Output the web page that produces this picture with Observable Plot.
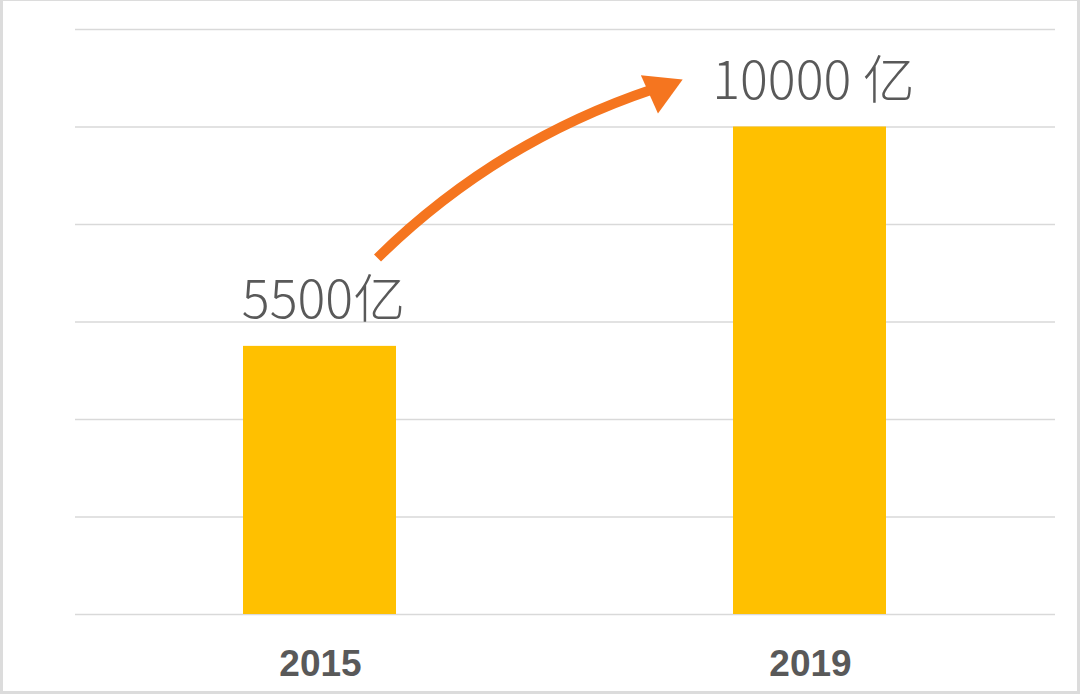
<!DOCTYPE html>
<html>
<head>
<meta charset="utf-8">
<script src="https://cdn.jsdelivr.net/npm/d3@7"></script>
<script src="https://cdn.jsdelivr.net/npm/@observablehq/plot@0.6"></script>
<style>
  html, body { margin: 0; padding: 0; background: #fff; }
  #wrap { position: relative; width: 1080px; height: 694px; overflow: hidden; }
  #frame { position: absolute; left: 0; top: 0; width: 1080px; height: 694px; box-sizing: border-box;
           border: 3px solid #dcdcdc; border-top-width: 1px; pointer-events: none; }
</style>
</head>
<body>
<div id="wrap"><div id="frame"></div></div>
<script>
const years = ["2015", "2019"];
const values = [5500, 10000];
const labels = ["5500亿", "10000 亿"];
const gridTicks = [0, 2000, 4000, 6000, 8000, 10000, 12000];
// growth arrow annotation (from 2015 to 2019), in data units
const arrowFrom = {year: "2015", value: 6020};
const arrowTo = {year: "2019", value: 11470};
const headAt = {year: "2019", value: 10770};

const bars = years.map((y, i) => ({year: y, value: values[i], label: labels[i]}));
const textColor = "#595959";
const cjk = "'Noto Sans CJK SC', 'Noto Sans', sans-serif";

const chart = Plot.plot({
  width: 1080,
  height: 694,
  marginLeft: 75,
  marginRight: 25,
  marginTop: 29,
  marginBottom: 80,
  style: {background: "transparent", overflow: "visible"},
  x: {type: "band", domain: years, padding: 0},
  y: {domain: [0, 12000], axis: null},
  marks: [
    Plot.ruleY(gridTicks, {stroke: "#d9d9d9", strokeWidth: 1.3}),
    Plot.barY(bars, {x: "year", y: "value", fill: "#FFC000", insetLeft: 168, insetRight: 169}),
    Plot.axisX({tickSize: 0, tickPadding: 35, fontSize: 37, fontWeight: "bold",
                fontFamily: "'Liberation Sans', Arial, sans-serif", fill: textColor, label: null}),
    Plot.text(bars, {x: "year", y: "value", text: "label", dy: -28, dx: 3, lineAnchor: "bottom",
                     fontSize: 52, fontWeight: 300, fontFamily: cjk, fill: textColor}),
    Plot.arrow([{x1: arrowFrom.year, y1: arrowFrom.value, x2: arrowTo.year, y2: arrowTo.value}], {
      x1: "x1", y1: "y1", x2: "x2", y2: "y2", bend: 22.8, headLength: 0,
      insetStart: 85, insetEnd: 162, stroke: "#f5751f", strokeWidth: 10, strokeLinecap: "butt"
    }),
    Plot.dot([headAt], {x: "year", y: "value", dx: -150, symbol: "triangle", r: 15.6, rotate: 66,
                        fill: "#f5751f", stroke: "none"})
  ]
});
document.getElementById("wrap").prepend(chart);
</script>
</body>
</html>
